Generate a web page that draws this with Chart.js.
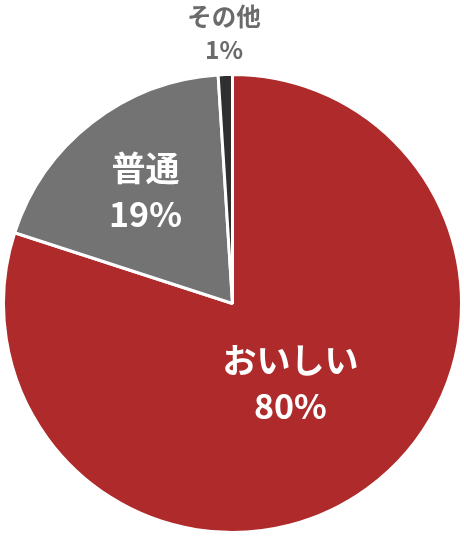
<!DOCTYPE html>
<html lang="ja">
<head>
<meta charset="utf-8">
<script src="https://cdn.jsdelivr.net/npm/chart.js@4"></script>
<style>
  html, body { margin: 0; padding: 0; background: #fff; }
  #wrap { width: 464px; height: 538px; }
</style>
</head>
<body>
<div id="wrap"><canvas id="pieChart" width="464" height="538"></canvas></div>
<script>
// データ
const labels = ['おいしい', '普通', 'その他'];
const values = [80, 19, 1];

// スタイル
const colors = ['#af2b2b', '#737373', '#2f2f2f'];
const labelColors = ['#ffffff', '#ffffff', '#6b6b6b'];
const labelRadius = [0.43, 0.62, 1.18]; // 外半径に対する位置
const labelFont = [34, 34, 24.5];

// ラベル描画用プラグイン
const sliceLabels = {
    id: 'sliceLabels',
    afterDatasetsDraw(chart) {
        const ctx = chart.ctx;
        const meta = chart.getDatasetMeta(0);
        meta.data.forEach((arc, i) => {
            const p = arc.getProps(['x', 'y', 'startAngle', 'endAngle', 'outerRadius'], true);
            const mid = (p.startAngle + p.endAngle) / 2;
            const r = p.outerRadius * labelRadius[i];
            const x = p.x + Math.cos(mid) * r;
            const y = p.y + Math.sin(mid) * r;
            const size = labelFont[i];
            ctx.save();
            ctx.fillStyle = labelColors[i];
            ctx.font = `bold ${size}px "Noto Sans CJK JP", "Noto Sans", sans-serif`;
            ctx.textAlign = 'center';
            ctx.textBaseline = 'middle';
            const gap = size * 0.67;
            ctx.fillText(labels[i], x, y - gap);
            ctx.fillText(values[i] + '%', x, y + gap);
            ctx.restore();
        });
    }
};

const ctx = document.getElementById('pieChart').getContext('2d');
new Chart(ctx, {
    type: 'pie',
    data: {
        labels: labels,
        datasets: [{
            data: values,
            backgroundColor: colors,
            borderColor: '#ffffff',
            borderWidth: 3
        }]
    },
    options: {
        responsive: false,
        animation: false,
        layout: {
            padding: { top: 73, bottom: 4, left: 2, right: 1 }
        },
        plugins: {
            legend: { display: false },
            tooltip: { enabled: false }
        }
    },
    plugins: [sliceLabels]
});
</script>
</body>
</html>
